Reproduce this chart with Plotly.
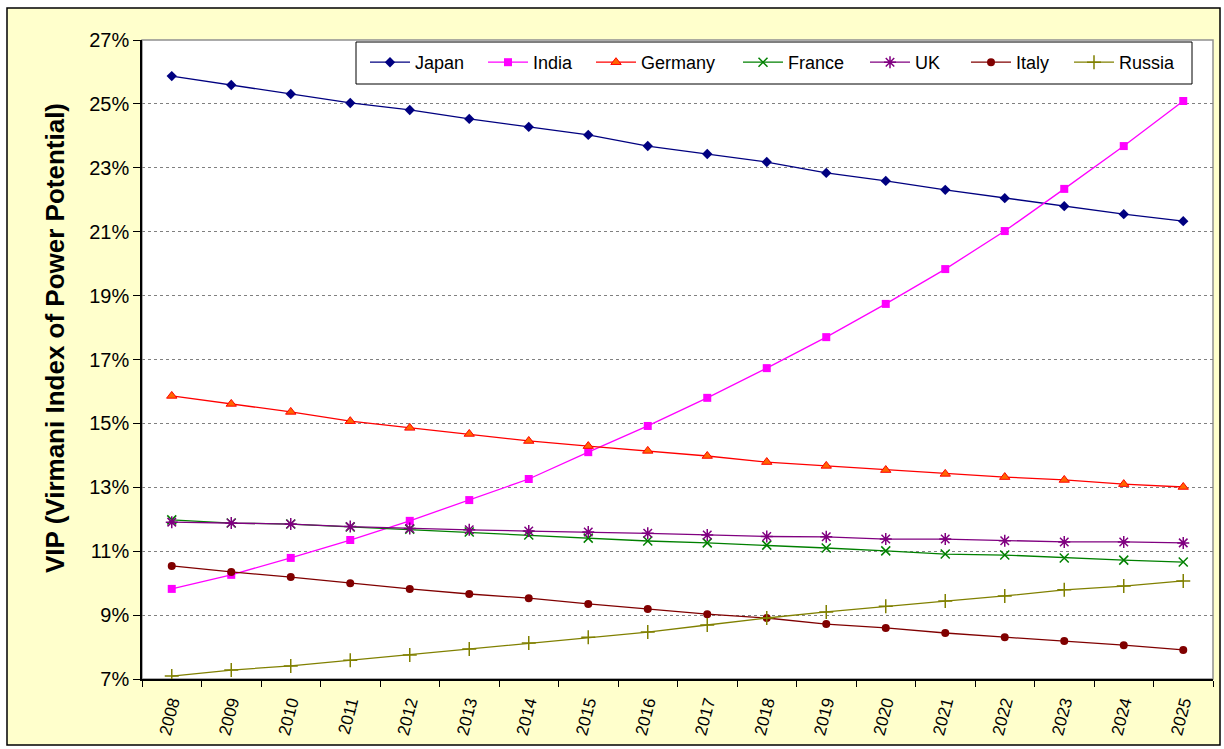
import plotly.graph_objects as go

# Projected VIP share by country, 2008-2025 (percent)
years = [str(y) for y in range(2008, 2026)]

japan = [25.87, 25.59, 25.31, 25.03, 24.81, 24.53, 24.28, 24.03, 23.68,
         23.43, 23.18, 22.84, 22.59, 22.31, 22.05, 21.80, 21.55, 21.33]
india = [9.82, 10.26, 10.79, 11.35, 11.95, 12.60, 13.26, 14.10, 14.92,
         15.80, 16.73, 17.70, 18.74, 19.83, 21.02, 22.34, 23.68, 25.09]
germany = [15.86, 15.61, 15.36, 15.07, 14.86, 14.67, 14.45, 14.29, 14.14,
           13.98, 13.79, 13.67, 13.54, 13.42, 13.32, 13.23, 13.10, 13.01]
france = [11.98, 11.88, 11.85, 11.76, 11.69, 11.60, 11.51, 11.41, 11.32,
          11.26, 11.19, 11.10, 11.01, 10.91, 10.88, 10.79, 10.72, 10.66]
uk = [11.91, 11.88, 11.85, 11.77, 11.71, 11.67, 11.63, 11.60, 11.56,
      11.51, 11.46, 11.45, 11.38, 11.38, 11.33, 11.29, 11.29, 11.26]
italy = [10.54, 10.35, 10.19, 10.00, 9.82, 9.66, 9.53, 9.35, 9.19,
         9.03, 8.91, 8.72, 8.60, 8.44, 8.31, 8.19, 8.06, 7.91]
russia = [7.09, 7.28, 7.41, 7.59, 7.75, 7.94, 8.13, 8.31, 8.47,
          8.69, 8.91, 9.10, 9.28, 9.44, 9.60, 9.79, 9.91, 10.07]

y_ticks = [7, 9, 11, 13, 15, 17, 19, 21, 23, 25, 27]
y_tick_text = [f"{v}%" for v in y_ticks]

FONT = "Arial, 'Liberation Sans', sans-serif"

# Plot area in pixels (left, right, top, bottom) for placing paper-space items
PL, PR, PT, PB = 142, 1213, 40, 679
PW, PH = PR - PL, PB - PT


def px_x(p):
    return (p - PL) / PW


def px_y(p):
    return (PB - p) / PH


series = [
    ("Japan", japan, "#000080", dict(symbol="diamond", size=8, color="#000080")),
    ("India", india, "#FF00FF", dict(symbol="square", size=8, color="#FF00FF")),
    ("Germany", germany, "#FF0000",
     dict(symbol="triangle-up", size=9, color="#FF6600",
          line=dict(color="#FF0000", width=1))),
    ("France", france, "#008000",
     dict(symbol="x-thin-open", size=9, color="#008000",
          line=dict(color="#008000", width=1.5))),
    ("UK", uk, "#800080",
     dict(symbol="asterisk-open", size=10, color="#800080",
          line=dict(color="#800080", width=1.5))),
    ("Italy", italy, "#800000", dict(symbol="circle", size=8, color="#800000")),
    ("Russia", russia, "#808000",
     dict(symbol="cross-thin-open", size=10, color="#808000",
          line=dict(color="#808000", width=1.5))),
]

# Left edge (px) of each legend entry's sample line
legend_px = [371, 489, 597, 744, 871, 972, 1075]

fig = go.Figure()
legend_layouts = {}
for i, (name, vals, color, marker) in enumerate(series):
    key = "legend" if i == 0 else f"legend{i + 1}"
    fig.add_trace(go.Scatter(
        x=years, y=vals, name=name, mode="lines+markers",
        line=dict(color=color, width=1.3), marker=marker,
        legend=key,
    ))
    legend_layouts[key] = dict(
        orientation="h", x=px_x(legend_px[i] - 6), y=px_y(44),
        xanchor="left", yanchor="top",
        bgcolor="rgba(0,0,0,0)", borderwidth=0,
        font=dict(family=FONT, size=18, color="#000000"),
        itemwidth=40,
    )

# Page frame (yellow with black border) and white plot area with grey edge
fig.add_shape(type="rect", xref="paper", yref="paper",
              x0=px_x(7), x1=px_x(1220), y0=px_y(745), y1=px_y(8),
              fillcolor="#FFFFCC", line=dict(color="#000000", width=1.5),
              layer="below")
fig.add_shape(type="rect", xref="paper", yref="paper",
              x0=0, x1=1, y0=0, y1=1,
              fillcolor="#FFFFFF", line=dict(color="#909090", width=1.5),
              layer="below")
# Legend box
fig.add_shape(type="rect", xref="paper", yref="paper",
              x0=px_x(356), x1=px_x(1192), y0=px_y(84), y1=px_y(42),
              fillcolor="#FFFFFF", line=dict(color="#000000", width=1),
              layer="below")

fig.add_annotation(
    text="<b>VIP (Virmani Index of Power Potential)</b>",
    xref="paper", yref="paper", x=px_x(55), y=px_y(338),
    textangle=-90, showarrow=False,
    font=dict(family=FONT, size=26, color="#000000"),
    xanchor="center", yanchor="middle",
)

fig.update_layout(
    width=1224, height=749,
    margin=dict(l=PL, r=1224 - PR, t=PT, b=749 - PB),
    paper_bgcolor="#FFFFFF",
    plot_bgcolor="rgba(0,0,0,0)",
    font=dict(family=FONT, color="#000000"),
    showlegend=True,
    xaxis=dict(
        type="category", tickson="boundaries",
        ticks="outside", ticklen=6, tickcolor="#000000",
        showline=True, linecolor="#000000", linewidth=1.5,
        showgrid=False, tickangle=-75, ticklabelstandoff=5,
        tickfont=dict(family=FONT, size=17, color="#000000"),
        range=[-0.5, len(years) - 0.5],
    ),
    yaxis=dict(
        range=[7, 27], tickvals=y_ticks, ticktext=y_tick_text,
        ticks="outside", ticklen=7, tickcolor="#000000",
        showline=True, linecolor="#000000", linewidth=1.5,
        showgrid=True, gridcolor="#808080", griddash="dot", gridwidth=1,
        zeroline=False,
        tickfont=dict(family=FONT, size=20, color="#000000"),
    ),
    **legend_layouts,
)

fig.write_html("out.html")
